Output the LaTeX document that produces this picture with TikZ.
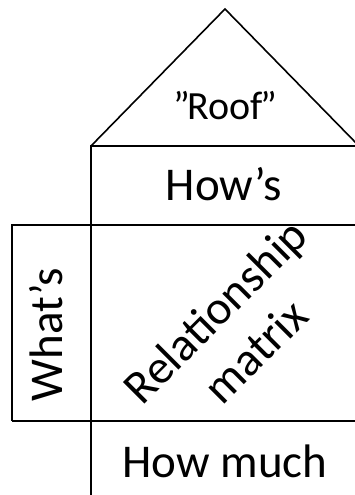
\documentclass[tikz,border=0pt]{standalone}
\usepackage{fontspec}
\setmainfont{Carlito}
\begin{document}
\begin{tikzpicture}[x=1pt,y=-1pt,
  frame/.style={line width=1.6pt, line join=miter},
  label/.style={inner sep=0pt, font=\fontsize{47}{56}\selectfont}]
\useasboundingbox (0,0) rectangle (354,495);
% corners of the house outline
\coordinate (apex) at (225,9);
\coordinate (eaveL) at (91,146);
\coordinate (eaveR) at (359,146);
\coordinate (howsBL) at (91,225);
\coordinate (howsBR) at (359,225);
\coordinate (matBL) at (91,421);
\coordinate (matBR) at (359,421);
\coordinate (whatTL) at (12,225);
\coordinate (whatBL) at (12,421);
\coordinate (foot) at (91,500);
% roof triangle
\draw[frame] (eaveL) -- (apex) -- (eaveR);
% main column: How's, matrix and How much
\draw[frame] (eaveR) -- (eaveL) -- (foot);
\draw[frame] (howsBL) -- (howsBR);
\draw[frame] (whatBL) -- (matBR);
% What's box on the left
\draw[frame] (howsBL) -- (whatTL) -- (whatBL);
% texts
\node[label, anchor=base, font=\fontsize{40}{48}\selectfont] (roof) at (225.5,119) {”\kern-2.5pt Roof\kern-2pt”};
\node[label, anchor=base] (hows) at (224,200) {How’s};
\node[label, anchor=base] (howmuch) at (225,477) {How much};
\node[label, anchor=base, rotate=90] (whats) at (62,334.5) {What’s};
\node[label, rotate=45, align=center, font=\fontsize{47.5}{57}\selectfont] (matrix) at (235,331) {Relationship\\matrix};
\end{tikzpicture}
\end{document}
